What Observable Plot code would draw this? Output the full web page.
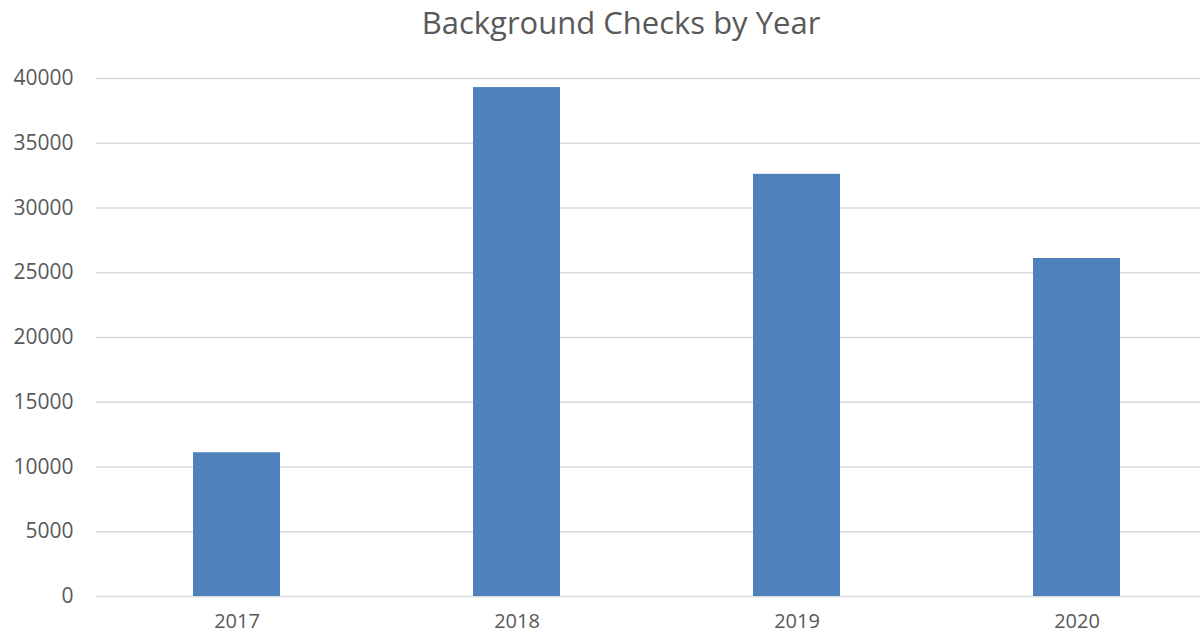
<!DOCTYPE html>
<html>
<head>
<meta charset="utf-8">
<script src="https://cdn.jsdelivr.net/npm/d3@7"></script>
<script src="https://cdn.jsdelivr.net/npm/@observablehq/plot@0.6"></script>
<style>
  html, body { margin: 0; padding: 0; background: #fff; overflow: hidden; width: 1200px; height: 636px; }
  #title { position: absolute; left: 0; top: 0; width: 1242px; height: 44px; line-height: 44px; text-align: center;
           font-family: "Open Sans", sans-serif; font-size: 31px; color: #595959; }
  #chart { position: absolute; left: 0; top: 50px; width: 1216px; }
  #chart svg { max-width: none !important; }
</style>
</head>
<body>
<div id="title">Background Checks by Year</div>
<div id="chart"></div>
<script>
const years = ["2017", "2018", "2019", "2020"];
const checks = [11100, 39300, 32600, 26100];
const yTicks = [0, 5000, 10000, 15000, 20000, 25000, 30000, 35000, 40000];

const data = years.map((y, i) => ({year: y, value: checks[i]}));

const plot = Plot.plot({
  width: 1216,
  height: 586,
  marginLeft: 96,
  marginRight: 0,
  marginTop: 28,
  marginBottom: 40,
  style: {fontFamily: "Open Sans, sans-serif", fontSize: "21px", color: "#595959", background: "white", maxWidth: "none"},
  x: {domain: years, paddingInner: 0.69, paddingOuter: 0.345, align: 0.5, label: null},
  y: {domain: [0, 40000], ticks: yTicks, label: null},
  marks: [
    Plot.ruleY(yTicks, {stroke: "#d9d9d9", strokeWidth: 1.5}),
    Plot.barY(data, {x: "year", y: "value", fill: "#4f81bd"}),
    Plot.axisY({ticks: yTicks, tickSize: 0, tickPadding: 23, tickFormat: d => String(d), label: null, fill: "#595959"}),
    Plot.axisX({tickSize: 0, tickPadding: 17, fontSize: 20, label: null, fill: "#595959"})
  ]
});
document.getElementById("chart").appendChild(plot);
</script>
</body>
</html>
